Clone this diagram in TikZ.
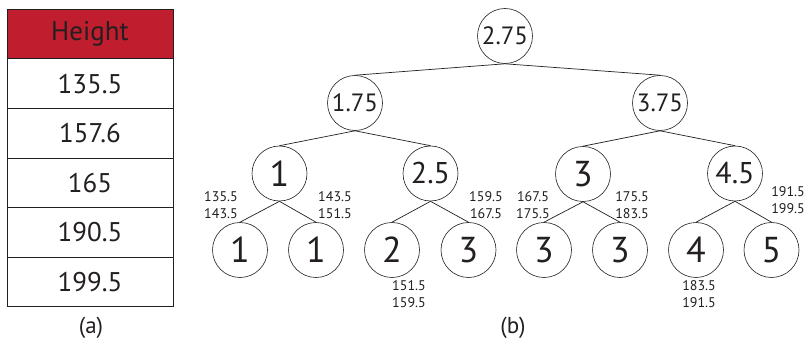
\documentclass[tikz,border=0pt]{standalone}
\usepackage{fontspec}
\setmainfont{PT Sans}
\definecolor{hred}{RGB}{192,30,46}
\definecolor{ink}{RGB}{35,31,32}
\begin{document}
\begin{tikzpicture}[x=1pt,y=-1pt,
  cell/.style={draw=ink, line width=0.7pt, minimum width=166pt, minimum height=49.6pt, inner sep=0pt, font=\fontsize{27}{27}\selectfont, text=ink},
  header/.style={cell, fill=hred},
  tnode/.style={circle, draw=ink, line width=0.6pt, minimum size=55pt, inner sep=0pt, text=ink},
  big/.style={tnode, font=\fontsize{36}{36}\selectfont},
  mid/.style={tnode, font=\fontsize{30}{30}\selectfont},
  sml/.style={tnode, font=\fontsize{25}{25}\selectfont},
  lab/.style={align=center, font=\fontsize{14}{17}\selectfont, text=ink, inner sep=0pt},
  capt/.style={font=\fontsize{23}{23}\selectfont, text=ink},
  conn/.style={draw=ink, line width=0.7pt}]
\fill[white] (0,0) rectangle (808,341);
% table
\node[header] (h) at (90,34) {Height};
\node[cell] (r1) at (90,83.6) {135.5};
\node[cell] (r2) at (90,133.2) {157.6};
\node[cell] (r3) at (90,182.8) {165};
\node[cell] (r4) at (90,232.4) {190.5};
\node[cell] (r5) at (90,282) {199.5};
\node[capt] (ca) at (91,328) {(a)};
% tree
\node[sml] (root) at (505,36) {2.75};
\node[sml] (a) at (355,103) {1.75};
\node[sml] (b) at (660,103) {3.75};
\node[big] (c1) at (279.5,173.5) {1};
\node[mid] (c2) at (430.5,173.5) {2.5};
\node[big] (c3) at (583,174) {3};
\node[mid] (c4) at (735,173.5) {4.5};
\node[big] (l1) at (240,250) {1};
\node[big] (l2) at (316,250) {1};
\node[big] (l3) at (392,250) {2};
\node[big] (l4) at (468.5,250) {3};
\node[big] (l5) at (544,250) {3};
\node[big] (l6) at (620,250) {3};
\node[big] (l7) at (696,250) {4};
\node[big] (l8) at (771.5,250) {5};
\foreach \p/\c in {root/a,root/b,a/c1,a/c2,b/c3,b/c4,c1/l1,c1/l2,c2/l3,c2/l4,c3/l5,c3/l6,c4/l7,c4/l8}
  \draw[conn] (\p.south) -- (\c.north);
% labels
\node[lab] (t1) at (221,205.5) {135.5\\143.5};
\node[lab] (t2) at (335,205.5) {143.5\\151.5};
\node[lab] (t3) at (409,294.5) {151.5\\159.5};
\node[lab] (t4) at (486,205.5) {159.5\\167.5};
\node[lab] (t5) at (533,205.5) {167.5\\175.5};
\node[lab] (t6) at (632,205.5) {175.5\\183.5};
\node[lab] (t7) at (699,294.5) {183.5\\191.5};
\node[lab] (t8) at (788,200.5) {191.5\\199.5};
\node[capt] (cb) at (513,328) {(b)};
\end{tikzpicture}
\end{document}
